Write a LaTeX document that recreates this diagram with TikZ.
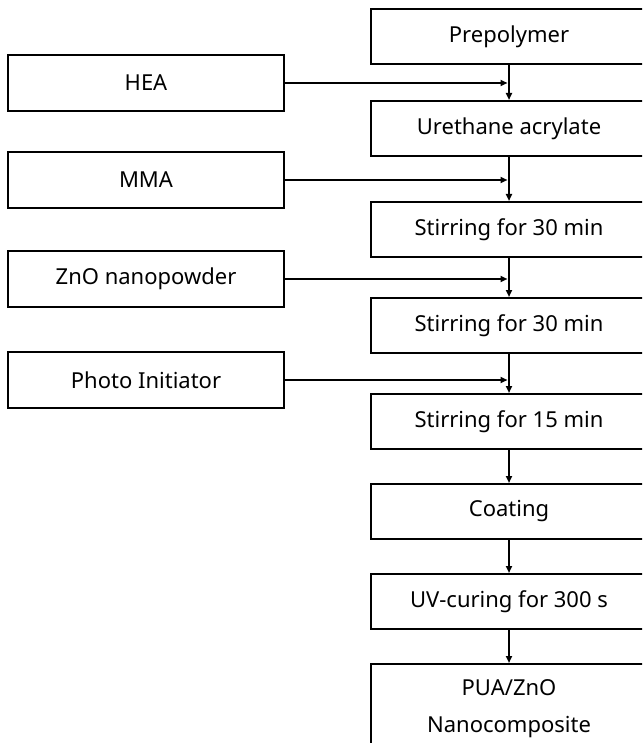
\documentclass[tikz,border=0pt]{standalone}
\usepackage{fontspec}
\setmainfont{Noto Sans}
\usetikzlibrary{arrows.meta}
\begin{document}
\begin{tikzpicture}[x=1pt,y=-1pt,
  txt/.style={font=\fontsize{22}{26}\selectfont},
  rbox/.style={draw, line width=2pt, minimum width=276pt, minimum height=55pt, inner sep=0pt, anchor=north west, txt},
  lbox/.style={draw, line width=2pt, minimum width=276pt, minimum height=56pt, inner sep=0pt, anchor=west, txt},
  arr/.style={line width=1.8pt, -{Triangle[length=7pt,width=6pt]}}]
\useasboundingbox (0,0) rectangle (642,743);
\begin{scope}
\clip (0,0) rectangle (642,743);
% right column
\node[rbox] (pre) at (370,8) {Prepolymer};
\node[rbox] (ure) at (370,100) {Urethane acrylate};
\node[rbox] (st1) at (370,201) {Stirring for 30 min};
\node[rbox] (st2) at (370,297) {Stirring for 30 min};
\node[rbox] (st3) at (370,393) {Stirring for 15 min};
\node[rbox] (coat) at (370,483) {Coating};
\node[rbox] (uv) at (370,573) {UV-curing for 300 s};
\node[rbox, minimum height=90pt, align=center] (fin) at (370,663) {PUA/ZnO\\[11pt]Nanocomposite};
% left column
\node[lbox] (hea) at (7,83) {HEA};
\node[lbox] (mma) at (7,180) {MMA};
\node[lbox] (zno) at (7,279) {ZnO nanopowder};
\node[lbox] (pi) at (7,380) {Photo Initiator};
% junctions
\coordinate (j1) at (pre.south |- hea.east);
\coordinate (j2) at (ure.south |- mma.east);
\coordinate (j3) at (st1.south |- zno.east);
\coordinate (j4) at (st2.south |- pi.east);
% vertical arrows
\draw[arr] (pre.south) -- (ure.north);
\draw[arr] (ure.south) -- (st1.north);
\draw[arr] (st1.south) -- (st2.north);
\draw[arr] (st2.south) -- (st3.north);
\draw[arr] (st3.south) -- (coat.north);
\draw[arr] (coat.south) -- (uv.north);
\draw[arr] (uv.south) -- (fin.north);
% horizontal arrows
\draw[arr, shorten >=1.5pt] (hea.east) -- (j1);
\draw[arr, shorten >=1.5pt] (mma.east) -- (j2);
\draw[arr, shorten >=1.5pt] (zno.east) -- (j3);
\draw[arr, shorten >=1.5pt] (pi.east) -- (j4);
\end{scope}
\end{tikzpicture}
\end{document}
